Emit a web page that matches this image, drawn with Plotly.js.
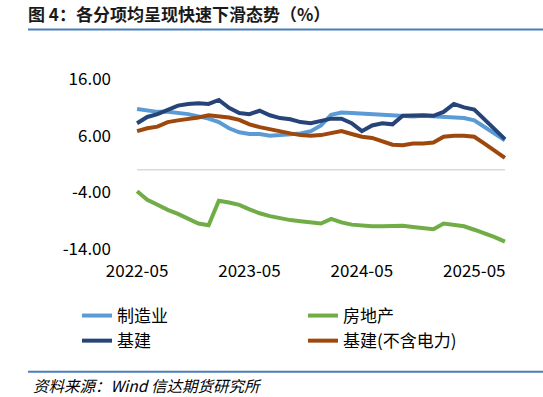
<!DOCTYPE html>
<html>
<head>
<meta charset="utf-8">
<script src="https://cdn.plot.ly/plotly-3.0.1.min.js"></script>
<style>
html,body{margin:0;padding:0;background:#fff;}
#chart{width:543px;height:397px;}
</style>
</head>
<body>
<div id="chart"></div>
<script>
// ---- data ----
const months = [
  '2022-05','2022-06','2022-07','2022-08','2022-09','2022-10','2022-11','2022-12',
  '2023-02','2023-03','2023-04','2023-05','2023-06','2023-07','2023-08','2023-09','2023-10','2023-11','2023-12',
  '2024-02','2024-03','2024-04','2024-05','2024-06','2024-07','2024-08','2024-09','2024-10','2024-11','2024-12',
  '2025-02','2025-03','2025-04','2025-05','2025-06','2025-07','2025-08'
];
const manufacturing = [10.7,10.5,10.2,10.2,10.0,9.8,9.4,9.0,
  8.4,7.3,6.6,6.3,6.3,6.0,6.1,6.3,6.4,6.8,7.8,
  9.7,10.1,10.0,9.9,9.8,9.7,9.5,9.5,9.4,9.5,9.4,
  9.3,9.3,9.1,8.7,7.5,6.3,5.2];
const realEstate = [-3.8,-5.3,-6.2,-7.1,-7.8,-8.7,-9.5,-9.8,
  -5.5,-5.8,-6.2,-7.0,-7.7,-8.2,-8.6,-8.9,-9.1,-9.3,-9.5,
  -8.7,-9.3,-9.7,-9.9,-10.0,-10.0,-10.0,-9.9,-10.1,-10.3,-10.5,
  -9.5,-9.7,-10.0,-10.6,-11.2,-11.9,-12.7];
const infra = [8.2,9.3,9.8,10.6,11.3,11.6,11.7,11.6,
  12.3,10.9,10.0,9.8,10.4,9.6,9.1,8.9,8.4,8.2,8.6,
  9.0,9.0,8.2,6.8,7.8,8.2,8.0,9.5,9.6,9.6,9.5,
  10.2,11.6,11.0,10.6,8.9,7.2,5.4];
const infraExPower = [6.8,7.3,7.6,8.4,8.7,8.9,9.2,9.6,
  9.4,9.2,8.8,8.0,7.5,7.1,6.7,6.4,6.1,6.0,6.1,
  6.4,6.8,6.3,5.8,5.6,5.0,4.4,4.3,4.6,4.6,4.8,
  5.8,6.0,6.0,5.8,4.6,3.3,2.1];
const seriesNames = ['制造业','房地产','基建','基建(不含电力)'];
const yTicks = [-14,-4,6,16];
const xTicks = months.filter(m => m.endsWith('-05'));
const titleText = '图 4：各分项均呈现快速下滑态势（%）';
const sourceText = '资料来源：Wind 信达期货研究所';

// ---- layout geometry ----
const FW = 543, FH = 397;
const L = 134, R = 35, T = 79, B = 148;
const PW = FW - L - R, PH = FH - T - B;
const px2x = px => (px - L) / PW;
const py2y = py => (FH - B - py) / PH;

const colors = ['#5b9bd5','#70ad47','#264478','#9e480e'];
const values = [manufacturing, realEstate, infra, infraExPower];
const font = '"Noto Sans CJK SC", "Noto Sans", sans-serif';

const traces = values.map((v, i) => ({
  type: 'scatter', mode: 'lines',
  x: months, y: v, name: seriesNames[i],
  line: {color: colors[i], width: 4},
  hoverinfo: 'skip'
}));

const layout = {
  width: FW, height: FH,
  margin: {l: L, r: R, t: T, b: B, pad: 0},
  paper_bgcolor: '#fff', plot_bgcolor: '#fff',
  font: {family: font, color: '#000', size: 17},
  showlegend: true,
  title: {
    text: '<b>' + titleText + '</b>',
    xref: 'container', yref: 'container',
    x: 28 / FW, xanchor: 'left',
    y: 1 - 15 / FH, yanchor: 'middle',
    font: {family: font, size: 17, color: '#1a1a1a'}
  },
  xaxis: {
    type: 'category',
    range: [-0.3, months.length - 1 + 0.3],
    tickvals: xTicks, ticktext: xTicks,
    showgrid: false, zeroline: false, showline: false, ticks: '',
    tickfont: {family: font, size: 17, color: '#000'},
    ticklabelstandoff: 10,
    fixedrange: true
  },
  yaxis: {
    range: [-14, 16],
    tickvals: yTicks, ticktext: yTicks.map(v => v.toFixed(2)),
    showgrid: false, zeroline: false, showline: false, ticks: '',
    tickfont: {family: font, size: 17, color: '#000'},
    ticklabelstandoff: 22,
    fixedrange: true
  },
  legend: {
    orientation: 'h',
    x: px2x(77), xanchor: 'left',
    y: py2y(298), yanchor: 'top',
    entrywidth: 181, entrywidthmode: 'pixels',
    font: {family: font, size: 17, color: '#000'},
    bgcolor: 'rgba(0,0,0,0)',
    traceorder: 'normal'
  },
  shapes: [
    {type: 'line', xref: 'x', yref: 'y', x0: 0, x1: months.length - 1, y0: 0, y1: 0,
     line: {color: '#d9d9d9', width: 1.5}, layer: 'below'},
    {type: 'line', xref: 'paper', yref: 'paper', x0: px2x(28), x1: px2x(543),
     y0: py2y(29.5), y1: py2y(29.5), line: {color: '#4a7ebb', width: 2}},
    {type: 'line', xref: 'paper', yref: 'paper', x0: px2x(28), x1: px2x(543),
     y0: py2y(371.7), y1: py2y(371.7), line: {color: '#4a7ebb', width: 2}}
  ],
  annotations: [
    {xref: 'paper', yref: 'paper', x: px2x(31), y: py2y(385),
     xanchor: 'left', yanchor: 'middle', showarrow: false,
     text: '<i>' + sourceText + '</i>',
     font: {family: font, size: 15.5, color: '#000'}}
  ]
};

Plotly.newPlot('chart', traces, layout, {displayModeBar: false, staticPlot: true});
</script>
</body>
</html>
